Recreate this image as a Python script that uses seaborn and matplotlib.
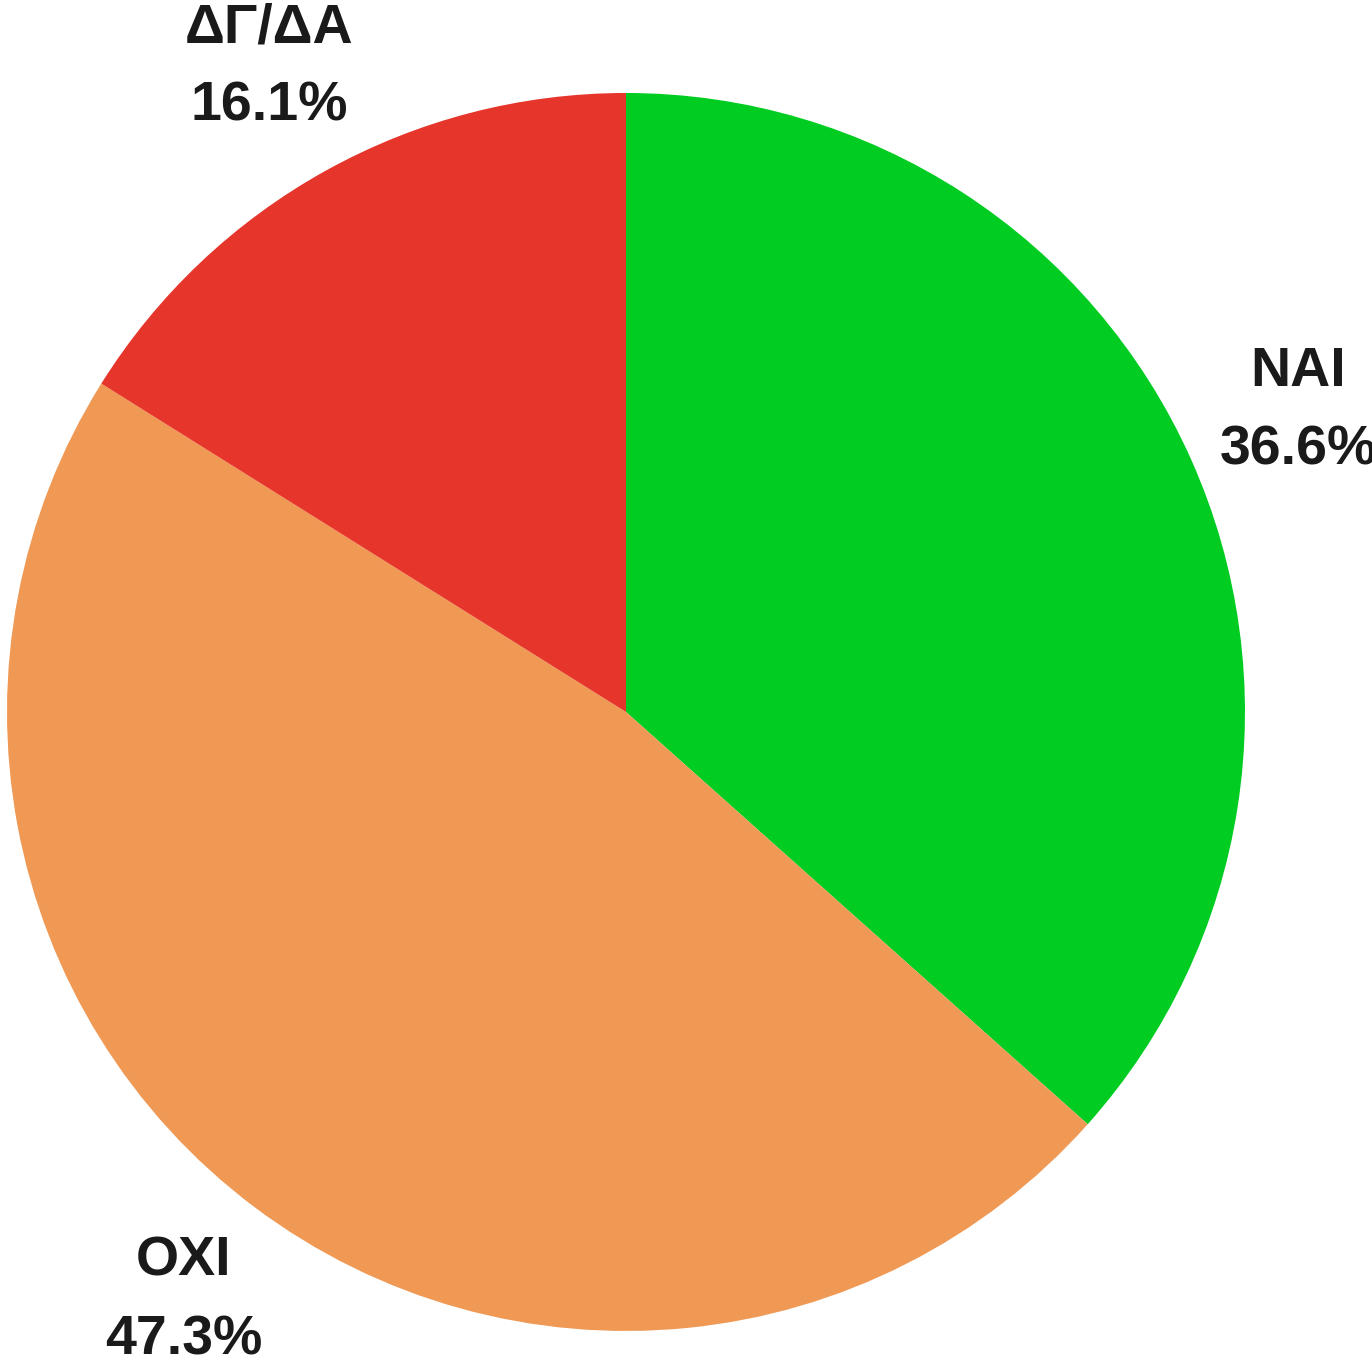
import matplotlib
matplotlib.use("Agg")
import matplotlib.pyplot as plt
import seaborn as sns

# Answer shares (percent), clockwise from 12 o'clock
categories = ["NAI", "OXI", "ΔΓ/ΔΑ"]
shares = [36.6, 47.3, 16.1]
colors = ["#00CC22", "#EF9955", "#E6352B"]

sns.set_theme(style="white")
plt.rcParams["font.family"] = ["Liberation Sans", "DejaVu Sans"]

fig = plt.figure(figsize=(13.72, 13.68), dpi=100)
fig.patch.set_facecolor("white")
ax = fig.add_axes([0, 0, 1, 1])

labels = [f"{c}\n{s:.1f}%" for c, s in zip(categories, shares)]
wedges, texts = ax.pie(
    shares,
    labels=labels,
    colors=colors,
    startangle=90,
    counterclock=False,
    radius=1.0,
    labeldistance=1.19,
    wedgeprops=dict(linewidth=0),
    textprops=dict(fontsize=40, fontweight="bold", color="#1a1a1a",
                   linespacing=1.66),
)
for t in texts:
    t.set_ha("center")
    t.set_va("center")
    t.set_multialignment("center")

ax.set_aspect("equal")
ax.set_xlim(-1.0113, 1.2052)
ax.set_ylim(-1.0598, 1.1502)
ax.axis("off")

fig.savefig("out.png", dpi=100, facecolor="white")
